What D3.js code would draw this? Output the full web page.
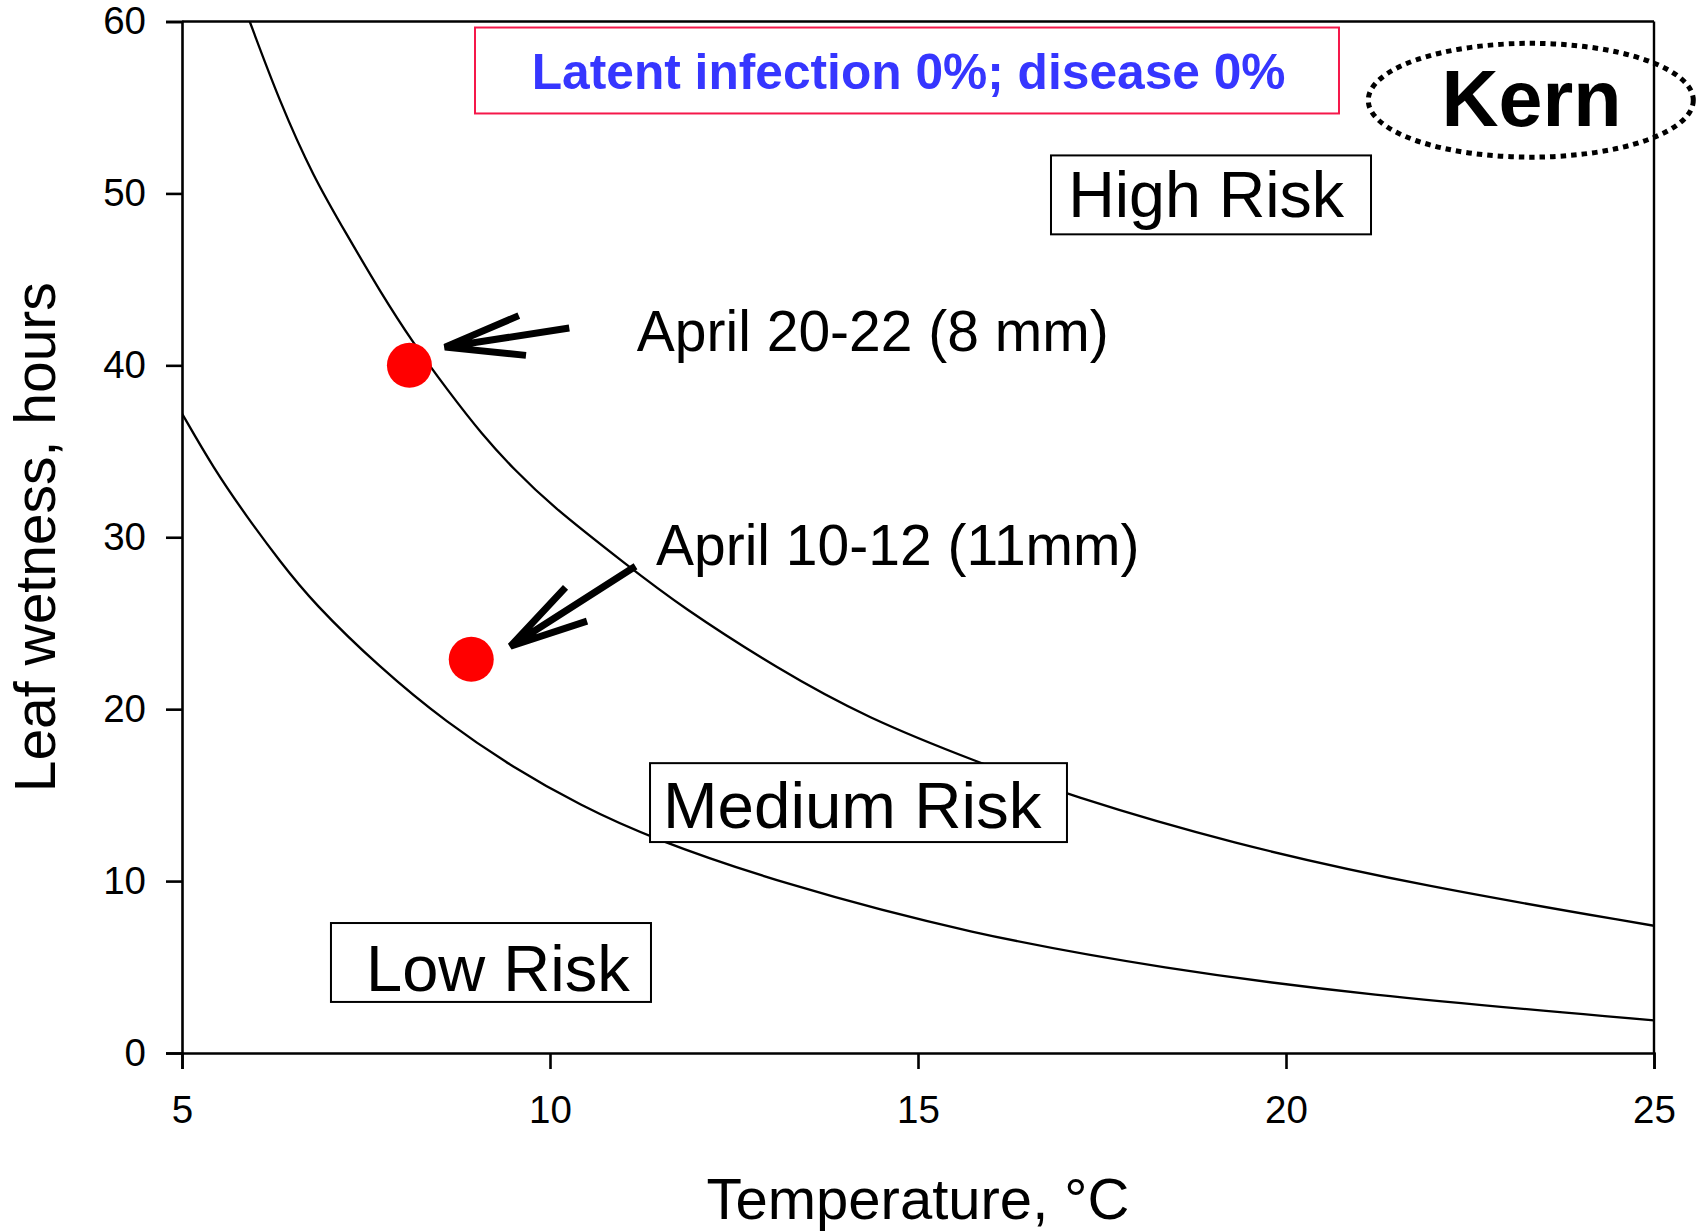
<!DOCTYPE html>
<html>
<head>
<meta charset="utf-8">
<script src="https://cdn.jsdelivr.net/npm/d3@7"></script>
<style>
  html, body { margin: 0; padding: 0; background: #fff; }
  svg { display: block; }
  text { font-family: "Liberation Sans", Arial, sans-serif; }
</style>
</head>
<body>
<svg id="chart" width="1704" height="1232"></svg>
<script>
// ---- Data ----
const xTicks = [5, 10, 15, 20, 25];
const yTicks = [0, 10, 20, 30, 40, 50, 60];

// Upper threshold curve (High / Medium risk boundary): temperature, hours
const upperTemp  = [5.92, 6.33, 6.78, 7.24, 7.69, 8.14, 8.60, 9.09, 9.50, 10.0, 11.04, 11.77, 13.11, 14.30, 15.82, 17.04, 19.23, 21.86, 25.0];
const upperHours = [60.0, 55.3, 51.0, 47.6, 44.3, 41.3, 38.6, 35.9, 34.0, 31.9, 28.4, 26.0, 22.3, 19.5, 16.9, 15.0, 12.2, 9.7, 7.4];

// Lower threshold curve (Medium / Low risk boundary)
const lowerTemp  = [5.0, 5.43, 5.88, 6.33, 6.78, 7.69, 8.60, 9.50, 10.41, 11.37, 13.11, 15.73, 18.36, 20.98, 25.0];
const lowerHours = [37.2, 34.0, 31.2, 28.6, 26.2, 22.4, 19.2, 16.6, 14.4, 12.5, 9.9, 6.9, 4.9, 3.4, 1.9];

// Observed wetness events
const eventTemp  = [8.09, 8.93];
const eventHours = [40.0, 22.9];
const eventNames = ["April 20-22 (8 mm)", "April 10-12 (11mm)"];

// Region labels
const riskLabels = ["High Risk", "Medium Risk", "Low Risk"];

// ---- Layout ----
const plot = { left: 182, right: 1654, top: 21.5, bottom: 1053 };

const svg = d3.select("#chart");
const x = d3.scaleLinear().domain([5, 25]).range([plot.left, plot.right]);
const y = d3.scaleLinear().domain([0, 60]).range([plot.bottom, plot.top]);

const FONT = '"Liberation Sans", Arial, sans-serif';

// clip for curves
svg.append("defs").append("clipPath").attr("id", "plotClip")
  .append("rect").attr("x", plot.left).attr("y", plot.top)
  .attr("width", plot.right - plot.left).attr("height", plot.bottom - plot.top);

// ---- Curves ----
const line = d3.line().x(d => x(d[0])).y(d => y(d[1])).curve(d3.curveBasis);
const upper = upperTemp.map((t, i) => [t, upperHours[i]]);
const lower = lowerTemp.map((t, i) => [t, lowerHours[i]]);
const curves = svg.append("g").attr("clip-path", "url(#plotClip)");
[upper, lower].forEach(pts => {
  curves.append("path").datum(pts).attr("d", line)
    .attr("fill", "none").attr("stroke", "#000").attr("stroke-width", 2.3);
});

// ---- Frame & axes ----
svg.append("line").attr("x1", plot.left).attr("x2", plot.right).attr("y1", plot.top).attr("y2", plot.top)
  .attr("stroke", "#000").attr("stroke-width", 2.6);
svg.append("line").attr("x1", plot.right).attr("x2", plot.right).attr("y1", plot.top).attr("y2", plot.bottom)
  .attr("stroke", "#000").attr("stroke-width", 2.4);

const yAxis = d3.axisLeft(y).tickValues(yTicks).tickSize(16).tickPadding(20).tickFormat(d3.format("d"));
const gy = svg.append("g").attr("transform", `translate(${plot.left},0)`).call(yAxis);
const xAxis = d3.axisBottom(x).tickValues(xTicks).tickSize(16).tickPadding(27).tickFormat(d3.format("d"));
const gx = svg.append("g").attr("transform", `translate(0,${plot.bottom})`).call(xAxis);
[gx, gy].forEach(g => {
  g.select(".domain").attr("stroke", "#000").attr("stroke-width", 2.6);
  g.selectAll(".tick line").attr("stroke", "#000").attr("stroke-width", 2.6);
  g.selectAll(".tick text").attr("fill", "#000").style("font-family", FONT).style("font-size", "38.5px");
});
gx.selectAll(".tick text").attr("dy", "0.71em");

// Axis titles
svg.append("text").attr("x", (plot.left + plot.right) / 2).attr("y", 1219)
  .attr("text-anchor", "middle").style("font-size", "58px").attr("fill", "#000")
  .text("Temperature, °C");
svg.append("text").attr("transform", `translate(55,${(plot.top + plot.bottom) / 2}) rotate(-90)`)
  .attr("text-anchor", "middle").style("font-size", "57px").attr("fill", "#000")
  .text("Leaf wetness, hours");

// ---- Annotation boxes (data coordinates) ----
const boxes = [
  { x0: 16.807, x1: 21.155, y0: 52.21, y1: 47.62, tx: 17.04,  ty: 48.6, size: 64.5, label: riskLabels[0] },
  { x0: 11.359, x1: 17.024, y0: 16.86, y1: 12.27, tx: 11.535, ty: 13.08, size: 65.5, label: riskLabels[1] },
  { x0: 7.024,  x1: 11.372, y0: 7.56,  y1: 2.97,  tx: 7.50,   ty: 3.6,  size: 65,   label: riskLabels[2] }
];
boxes.forEach(b => {
  svg.append("rect").attr("x", x(b.x0)).attr("y", y(b.y0))
    .attr("width", x(b.x1) - x(b.x0)).attr("height", y(b.y1) - y(b.y0))
    .attr("fill", "#fff").attr("stroke", "#000").attr("stroke-width", 2);
  svg.append("text").attr("x", x(b.tx)).attr("y", y(b.ty))
    .style("font-size", b.size + "px").attr("fill", "#000").text(b.label);
});

// Summary box
svg.append("rect").attr("x", x(8.981)).attr("y", y(59.65))
  .attr("width", x(20.72) - x(8.981)).attr("height", y(54.65) - y(59.65))
  .attr("fill", "#fff").attr("stroke", "#f5184a").attr("stroke-width", 2);
svg.append("text").attr("x", x(14.873)).attr("y", y(56.09)).attr("text-anchor", "middle")
  .style("font-size", "49.7px").style("font-weight", "bold").attr("fill", "#3636ff")
  .text("Latent infection 0%; disease 0%");

// Site label with dotted ellipse
svg.append("ellipse").attr("cx", x(23.326)).attr("cy", y(55.42))
  .attr("rx", x(23.326 + 2.208) - x(23.326)).attr("ry", y(55.42 - 3.31) - y(55.42))
  .attr("fill", "none").attr("stroke", "#000").attr("stroke-width", 5).attr("stroke-dasharray", "5.5,5");
svg.append("text").attr("x", x(23.336)).attr("y", y(53.95)).attr("text-anchor", "middle")
  .style("font-size", "79px").style("font-weight", "bold").attr("fill", "#000").text("Kern");

// ---- Event labels and arrows ----
const labelPos = [[11.18, 40.84], [11.44, 28.37]];
eventNames.forEach((n, i) => {
  svg.append("text").attr("x", x(labelPos[i][0])).attr("y", y(labelPos[i][1]))
    .style("font-size", "57px").attr("fill", "#000").text(n);
});

// arrows: tail, tip, barb1, barb2
const arrows = [
  { tail: [10.262, 42.17], tip: [8.573, 41.06], b1: [9.576, 42.89], b2: [9.674, 40.58] },
  { tail: [11.162, 28.31], tip: [9.463, 23.66], b1: [10.211, 27.09], b2: [10.503, 25.12] }
];
arrows.forEach(a => {
  const p = d3.path();
  p.moveTo(x(a.tail[0]), y(a.tail[1])); p.lineTo(x(a.tip[0]), y(a.tip[1]));
  p.moveTo(x(a.b1[0]), y(a.b1[1])); p.lineTo(x(a.tip[0]), y(a.tip[1])); p.lineTo(x(a.b2[0]), y(a.b2[1]));
  svg.append("path").attr("d", p.toString()).attr("fill", "none")
    .attr("stroke", "#000").attr("stroke-width", 7).attr("stroke-linejoin", "miter");
});

// ---- Event points ----
svg.append("g").selectAll("circle").data(eventTemp.map((t, i) => [t, eventHours[i]])).join("circle")
  .attr("cx", d => x(d[0])).attr("cy", d => y(d[1])).attr("r", 22.5).attr("fill", "#ff0000");
</script>
</body>
</html>
